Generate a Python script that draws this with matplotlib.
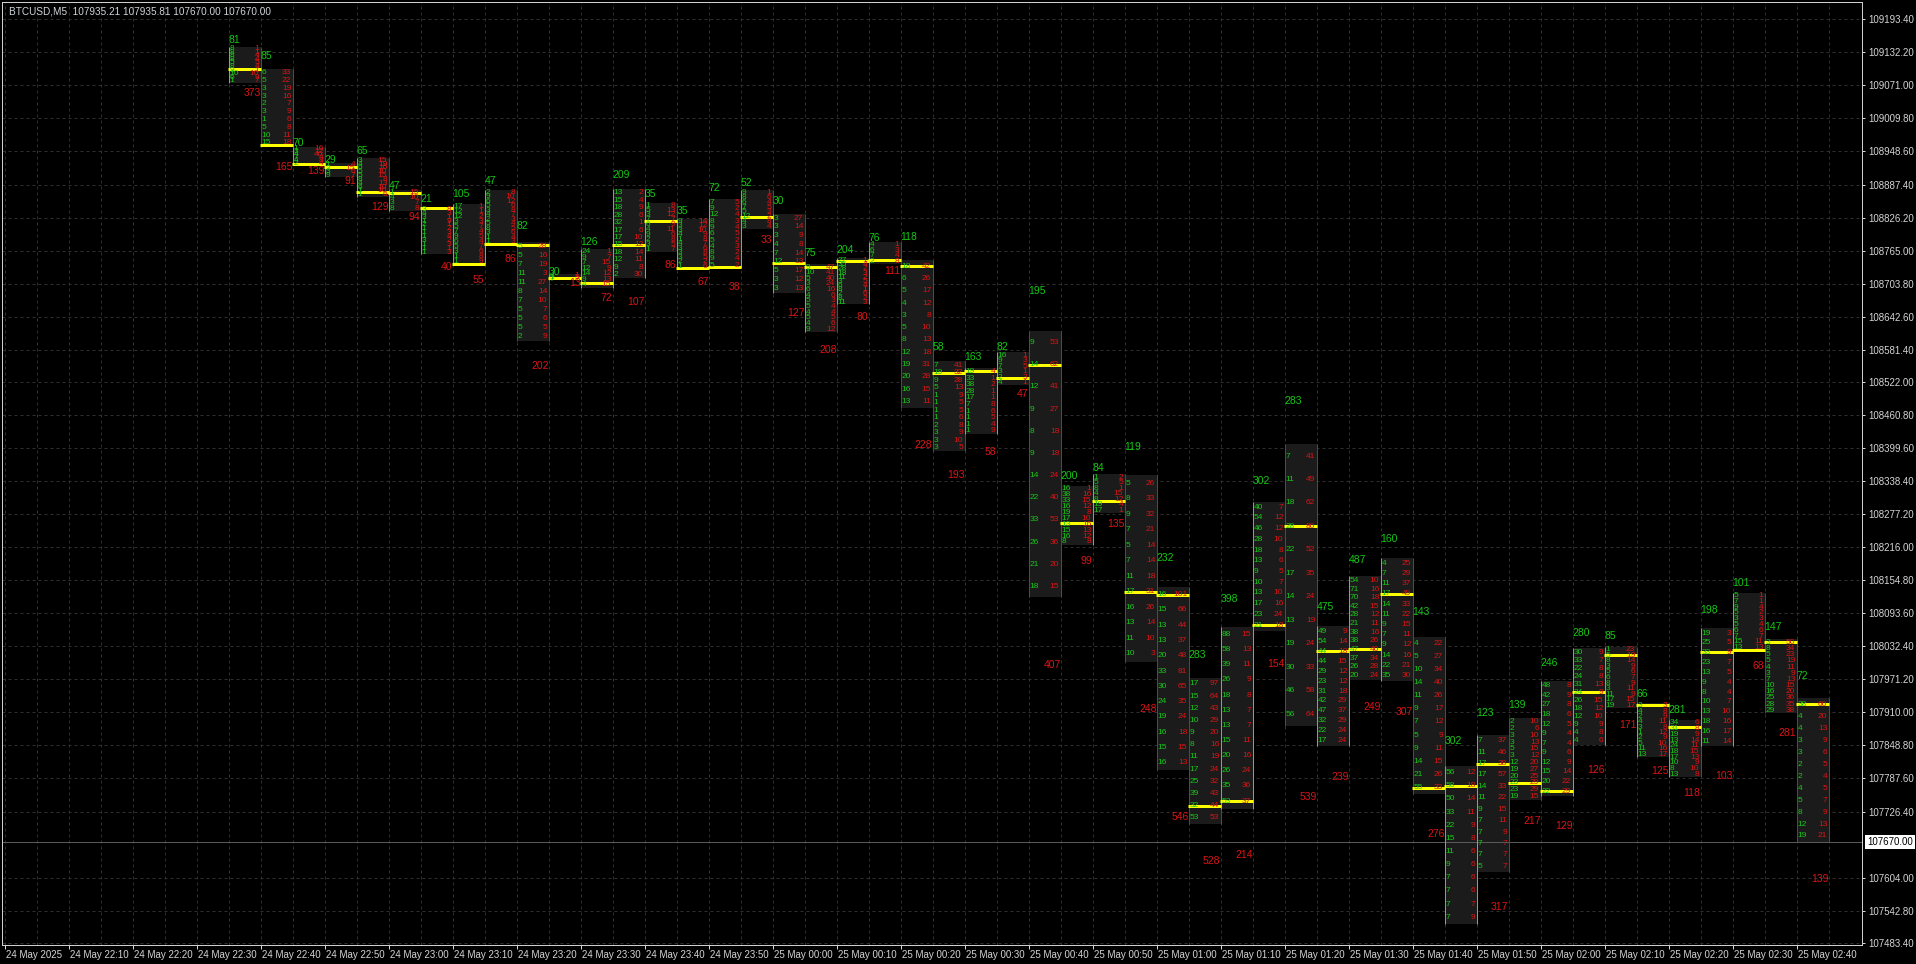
import matplotlib
matplotlib.use("Agg")
import matplotlib.pyplot as plt
from matplotlib.patches import Rectangle
from matplotlib import font_manager

# BTCUSD M5 footprint, 24-25 May 2025
header = "BTCUSD,M5  107935.21 107935.81 107670.00 107670.00"
last_price = 107670.00

bar_times = ["22:35", "22:40", "22:45", "22:50", "22:55", "23:00", "23:05", "23:10", "23:15", "23:20",
             "23:25", "23:30", "23:35", "23:40", "23:45", "23:50", "23:55", "00:00", "00:05", "00:10",
             "00:15", "00:20", "00:25", "00:30", "00:35", "00:40", "00:45", "00:50", "00:55", "01:00",
             "01:05", "01:10", "01:15", "01:20", "01:25", "01:30", "01:35", "01:40", "01:45", "01:50",
             "01:55", "02:00", "02:05", "02:10", "02:15", "02:20", "02:25", "02:30", "02:35", "02:40"]

high = [109142.6, 109101.3, 108957.5, 108926.7, 108936.0, 108877.3, 108845.2, 108851.4, 108877.3, 108781.6,
        108721.7, 108768.6, 108878.6, 108853.8, 108823.0, 108860.1, 108877.3, 108833.4, 108739.9, 108750.6,
        108781.2, 108747.5, 108559.9, 108547.1, 108576.4, 108615.3, 108329.5, 108350.5, 108348.6, 108142.2,
        107973.8, 108068.1, 108300.1, 108406.4, 108069.4, 108162.2, 108195.9, 108049.9, 107810.5, 107868.1,
        107899.0, 107968.1, 108028.6, 108031.6, 107926.8, 107895.9, 108065.7, 108131.6, 108045.3, 107935.8]

low = [109076.0, 108957.5, 108923.6, 108901.9, 108864.9, 108839.0, 108758.2, 108740.3, 108777.3, 108598.2,
       108710.6, 108696.4, 108713.8, 108763.0, 108732.3, 108732.3, 108805.1, 108687.1, 108614.5, 108665.4,
       108739.9, 108474.5, 108393.1, 108424.9, 108515.8, 108122.7, 108220.1, 108278.6, 108003.7, 107802.4,
       107703.5, 107731.8, 108061.4, 107885.1, 107848.1, 107970.5, 107968.5, 107758.7, 107518.5, 107614.4,
       107747.7, 107755.2, 107849.6, 107917.5, 107827.9, 107789.8, 107847.7, 108024.2, 107908.3, 107670.0]

poc = [109100.8, 108960.0, 108925.4, 108919.9, 108873.6, 108871.7, 108843.4, 108740.8, 108778.2, 108774.9,
       108713.8, 108704.5, 108774.9, 108819.3, 108733.4, 108734.1, 108826.7, 108742.5, 108734.9, 108745.6,
       108747.5, 108736.7, 108538.2, 108542.7, 108529.3, 108553.4, 108261.4, 108300.8, 108133.5, 108127.3,
       107737.2, 107746.6, 108071.4, 108255.1, 108024.4, 108027.7, 108128.6, 107770.2, 107774.2, 107813.9,
       107778.7, 107764.4, 107947.2, 108015.7, 107923.1, 107882.4, 108021.2, 108025.8, 108040.3, 107925.0]

buy_total = [81, 85, 70, 29, 65, 47, 21, 105, 47, 82,
             30, 126, 209, 35, 35, 72, 52, 30, 75, 204,
             76, 118, 58, 163, 82, 195, 200, 84, 119, 232,
             283, 398, 302, 283, 475, 487, 160, 143, 302, 123,
             139, 246, 280, 85, 66, 281, 198, 101, 147, 72]

sell_total = [373, 165, 139, 91, 129, 94, 40, 55, 86, 202,
              13, 72, 107, 86, 67, 38, 33, 127, 208, 80,
              111, 228, 193, 58, 47, 407, 99, 135, 248, 546,
              528, 214, 154, 539, 239, 249, 307, 276, None, 317,
              217, 129, 126, 171, 125, 118, 103, 68, 281, 139]

# colour of the left / right edge of each footprint box (g = green, r = red)
edges = ["gr", "rr", "gr", "gr", "gr", "gr", "gr", "gg", "gr", "rr",
         "gr", "gg", "gg", "gr", "gr", "gg", "gr", "gr", "gr", "gg",
         "gr", "rr", "rr", "gg", "gg", "rr", "rg", "gr", "rr", "rr",
         "rr", "gg", "gg", "rr", "gg", "gg", "gr", "rr", "gg", "gr",
         "rr", "gg", "gg", "gr", "gr", "gr", "gg", "gr", "rr", "rr"]

# per price level volumes, top to bottom
buy_lv = [
    [8, 8, 8, 8, 5, 8, 9, 10, 6, 1], [6, 5, 3, 3, 2, 3, 1, 5, 10, 15], [1, 3, 4, 7, 4, 2], [1, 2, 3, 9],
    [3, 4, 6, 5, 5, 8, 4, 6, 1, 1], [1, 4, 3, 8], [3, 4, 3, 1, 2, 1, 1, 1, 3, 1, 1, 1],
    [17, 12, 12, 3, 5, 7, 9, 6, 5, 3, 1, 1], [2, 9, 6, 5, 3, 4, 2, 5, 8, 3, 1, 1],
    [5, 5, 7, 11, 11, 8, 7, 5, 5, 5, 2], [4, 1, 7], [24, 9, 7, 12, 14, 9, 4],
    [13, 15, 18, 28, 32, 17, 17, 15, 18, 12, 9, 2], [1, 5, 3, 7, 6, 4, 9, 2, 3, 1],
    [9, 3, 3, 4, 1, 4, 3, 3, 3, 2, 1], [7, 9, 12, 8, 9, 6, 5, 4, 8, 9, 5], [9, 8, 6, 7, 5, 12, 4, 3],
    [3, 3, 3, 4, 7, 12, 5, 3, 3], [9, 10, 5, 3, 6, 4, 5, 5, 4, 5, 4, 9], [27, 35, 28, 18, 11, 3, 6, 8, 2, 8, 11],
    [4, 6, 7, 2], [18, 6, 5, 4, 3, 5, 8, 12, 19, 20, 16, 13], [7, 19, 9, 5, 1, 1, 1, 1, 2, 3, 3, 3],
    [19, 33, 38, 28, 17, 7, 1, 1, 1, 1], [16, 9, 7, 3, 2, 4], [9, 14, 12, 9, 8, 9, 14, 22, 33, 26, 21, 18],
    [16, 38, 33, 16, 19, 17, 13, 15, 16, 8], [1, 5, 8, 4, 8, 19, 17], [5, 8, 9, 7, 5, 7, 11, 17, 16, 13, 11, 10],
    [16, 15, 13, 13, 20, 33, 30, 24, 19, 16, 15, 16], [17, 15, 12, 10, 9, 8, 11, 17, 25, 39, 32, 53],
    [88, 58, 39, 26, 18, 13, 13, 15, 20, 26, 35, 53], [40, 54, 46, 28, 18, 13, 9, 10, 13, 17, 23, 21],
    [7, 11, 18, 28, 22, 17, 14, 13, 19, 30, 46, 56], [49, 54, 44, 44, 29, 23, 31, 42, 47, 32, 22, 17],
    [54, 71, 70, 42, 28, 21, 38, 38, 47, 37, 26, 20], [4, 7, 11, 17, 14, 11, 9, 7, 9, 14, 22, 35],
    [4, 5, 10, 14, 11, 9, 7, 5, 9, 14, 21, 55], [56, 58, 50, 33, 22, 15, 11, 9, 7, 7, 7, 7],
    [7, 11, 17, 17, 14, 11, 9, 7, 7, 7, 7, 5], [2, 2, 3, 3, 5, 3, 12, 19, 20, 23, 23, 19],
    [48, 42, 27, 18, 12, 9, 7, 9, 12, 15, 20, 22], [30, 33, 22, 24, 31, 24, 26, 18, 12, 9, 4, 4],
    [1, 5, 8, 3, 5, 6, 8, 3, 11, 17, 19], [3, 4, 2, 4, 3, 1, 2, 5, 11, 13], [34, 31, 19, 13, 24, 18, 17, 10, 8, 13],
    [19, 25, 33, 23, 13, 9, 8, 10, 13, 18, 16, 11], [5, 7, 9, 5, 3, 5, 6, 7, 15, 13],
    [3, 8, 5, 5, 4, 3, 7, 10, 16, 25, 28, 29], [38, 4, 4, 3, 3, 2, 2, 4, 5, 8, 12, 19],
]

sell_lv = [
    [1, 1, 4, 4, 5, 4, 1, 10, 9, 7], [33, 22, 19, 16, 7, 9, 6, 8, 11, 18], [16, 12, 40, 4, 8, 4], [4, 15, 6, 7],
    [15, 19, 16, 10, 15, 8, 13, 10, 10, 6], [15, 10, 7, 8], [8, 3, 1, 9, 1, 2, 3, 4, 2, 3, 1, 3],
    [1, 1, 2, 3, 7, 4, 5, 4, 7, 6, 8, 9], [8, 10, 12, 6, 8, 7, 3, 4, 5, 6, 4, 3],
    [28, 16, 19, 3, 27, 14, 10, 7, 6, 5, 9], [1, 5, 7], [1, 7, 15, 9, 12, 13, 15],
    [2, 4, 9, 6, 1, 6, 10, 12, 14, 11, 8, 30], [8, 13, 12, 7, 9, 11, 6, 8, 5, 7],
    [14, 12, 10, 9, 8, 7, 6, 8, 5, 2, 6], [5, 2, 4, 3, 4, 5, 2, 3, 2, 4, 2], [1, 6, 4, 5, 3, 2, 8, 4],
    [27, 14, 9, 8, 14, 13, 17, 12, 13], [47, 41, 40, 24, 16, 6, 3, 4, 4, 5, 6, 12], [1, 4, 2, 3, 2, 5, 4, 1, 6, 2, 3],
    [1, 3, 4, 8], [42, 26, 17, 12, 8, 10, 13, 18, 31, 28, 15, 11], [41, 32, 28, 13, 9, 5, 5, 6, 8, 9, 10, 5],
    [4, 1, 2, 1, 1, 8, 6, 5, 4, 9], [1, 3, 5, 1, 3, 1], [53, 62, 41, 27, 18, 18, 24, 40, 53, 36, 20, 15],
    [1, 16, 15, 12, 8, 10, 16, 13, 12, 8], [2, 5, 1, 15, 12, 4, 1], [26, 33, 32, 21, 14, 14, 18, 31, 26, 14, 10, 3],
    [101, 66, 44, 37, 48, 81, 65, 35, 24, 18, 15, 13], [97, 64, 43, 29, 20, 16, 19, 24, 32, 43, 44, 53],
    [15, 13, 11, 9, 8, 7, 7, 11, 16, 24, 36, 37], [7, 12, 12, 10, 8, 6, 5, 7, 10, 16, 24, 18],
    [41, 49, 62, 80, 52, 35, 24, 19, 24, 33, 58, 64], [9, 14, 18, 15, 12, 12, 18, 29, 37, 29, 24, 24],
    [10, 16, 18, 15, 12, 11, 16, 26, 40, 34, 28, 24], [25, 29, 37, 49, 33, 22, 15, 11, 12, 16, 21, 30],
    [22, 27, 34, 40, 26, 17, 12, 9, 11, 15, 26, 33], [12, 18, 14, 11, 9, 8, 6, 6, 6, 6, 7, 9],
    [37, 46, 38, 57, 33, 22, 15, 11, 9, 7, 7, 7], [10, 6, 10, 13, 15, 12, 20, 27, 25, 29, 29, 15],
    [8, 9, 8, 6, 5, 4, 4, 6, 9, 14, 22, 29], [9, 7, 8, 8, 13, 9, 15, 12, 10, 9, 8, 6],
    [23, 19, 14, 9, 6, 7, 9, 11, 9, 15, 17], [3, 8, 9, 11, 8, 12, 9, 10, 16, 17], [6, 8, 9, 14, 11, 15, 13, 9, 10, 8],
    [3, 5, 9, 7, 5, 4, 4, 7, 10, 16, 17, 14], [1, 1, 4, 2, 3, 4, 6, 7, 11, 13],
    [50, 34, 23, 19, 11, 9, 13, 15, 20, 36, 35, 38], [60, 20, 13, 9, 6, 5, 4, 5, 7, 9, 13, 21],
]

x_ticklabels = ["24 May 2025", "24 May 22:10", "24 May 22:20", "24 May 22:30", "24 May 22:40",
                "24 May 22:50", "24 May 23:00", "24 May 23:10", "24 May 23:20", "24 May 23:30",
                "24 May 23:40", "24 May 23:50", "25 May 00:00", "25 May 00:10", "25 May 00:20",
                "25 May 00:30", "25 May 00:40", "25 May 00:50", "25 May 01:00", "25 May 01:10",
                "25 May 01:20", "25 May 01:30", "25 May 01:40", "25 May 01:50", "25 May 02:00",
                "25 May 02:10", "25 May 02:20", "25 May 02:30", "25 May 02:40"]

y_ticklabels = ["109193.40", "109132.20", "109071.00", "109009.80", "108948.60", "108887.40",
                "108826.20", "108765.00", "108703.80", "108642.60", "108581.40", "108522.00",
                "108460.80", "108399.60", "108338.40", "108277.20", "108216.00", "108154.80",
                "108093.60", "108032.40", "107971.20", "107910.00", "107848.80", "107787.60",
                "107726.40", "107604.00", "107542.80", "107483.40"]

PX = 0.72  # one pixel in points at dpi 100
BOX = "#1b1b1b"
GRID = "#2f2f2f"
AXTXT = "#d4d4d4"
G_LINE, R_LINE = "#00ff00", "#ff0000"
G_TXT, R_TXT = "#16c816", "#dc1414"
YEL = "#ffff00"

names = {f.name for f in font_manager.fontManager.ttflist}
NUM_FONT = "Liberation Sans Narrow" if "Liberation Sans Narrow" in names else "Liberation Sans"
plt.rcParams["font.family"] = ["Liberation Sans", "DejaVu Sans"]


def slot(t):
    h, m = map(int, t.split(":"))
    mins = h * 60 + m
    if h < 22:
        mins += 24 * 60
    return (mins - 22 * 60) / 5


fig = plt.figure(figsize=(19.16, 9.64), dpi=100, facecolor="black")
ax = fig.add_axes([2 / 1916, 19 / 964, 1860 / 1916, 943 / 964])
ax.set_facecolor("black")
x0 = -2.5 / 32
ax.set_xlim(x0, x0 + 1860 / 32)
ax.set_ylim(107479.2, 109225.4)

# grid
yticks = [float(s) for s in y_ticklabels]
ax.set_yticks(yticks)
ax.set_yticklabels(y_ticklabels)
ax.set_xticks(range(0, 2 * len(x_ticklabels), 2))
ax.set_xticklabels([])
ax.set_xticks(range(1, 58, 2), minor=True)
ax.grid(True, which="both", axis="x", color=GRID, lw=PX, ls=(0, (3, 3)))
ax.grid(True, which="major", axis="y", color=GRID, lw=PX, ls=(0, (3, 3)))
ax.set_axisbelow(True)

ax.yaxis.tick_right()
ax.tick_params(axis="y", which="major", length=3 * PX, width=PX, color=AXTXT,
               labelcolor=AXTXT, labelsize=7, pad=2.2)
ax.tick_params(axis="x", which="major", length=4 * PX, width=PX, color=AXTXT)
ax.tick_params(axis="x", which="minor", length=0)
for sp in ax.spines.values():
    sp.set_color("#cfcfcf")
    sp.set_linewidth(PX)

for k, lab in enumerate(x_ticklabels):
    ax.annotate(lab, xy=(2 * k, 0), xycoords=("data", "axes fraction"), xytext=(2, -10),
                textcoords="offset pixels", ha="left", va="center", fontsize=7, color=AXTXT,
                annotation_clip=False)

# last price line and marker
ax.axhline(last_price, color="#5a5a5a", lw=PX, zorder=2.5)
ax.annotate(f"{last_price:.2f}", xy=(1, last_price), xycoords=("axes fraction", "data"),
            xytext=(5, 0), textcoords="offset pixels", ha="left", va="center", fontsize=7,
            color="black", annotation_clip=False,
            bbox=dict(boxstyle="square,pad=0.2", fc="white", ec="none"))

ax.annotate(header, xy=(0, 1), xycoords="axes fraction", xytext=(7, -9),
            textcoords="offset pixels", ha="left", va="center", fontsize=7.2, color="#d0d4d8")

slots = [slot(t) for t in bar_times]

for s, hi, lo in zip(slots, high, low):
    ax.add_patch(Rectangle((s, lo), 1, hi - lo, fc=BOX, ec="none", zorder=2))

for s, hi, lo, e in zip(slots, high, low, edges):
    ax.vlines(s, lo, hi, color=G_LINE if e[0] == "g" else R_LINE, lw=PX, zorder=3)
    ax.vlines(s + 1, lo, hi, color=G_LINE if e[1] == "g" else R_LINE, lw=PX, zorder=3)

for s, p in zip(slots, poc):
    ax.hlines(p, s - 0.03, s + 1.03, color=YEL, lw=3 * PX, zorder=4)

for s, hi, lo, bl, sl in zip(slots, high, low, buy_lv, sell_lv):
    n = len(bl)
    step = (hi - lo) / n
    for k, (b, v) in enumerate(zip(bl, sl)):
        yk = hi - (k + 0.5) * step
        ax.text(s + 0.04, yk, str(b), color=G_TXT, fontsize=6, family=NUM_FONT,
                ha="left", va="center", zorder=5)
        ax.text(s + 0.96, yk, str(v), color=R_TXT, fontsize=6, family=NUM_FONT,
                ha="right", va="center", zorder=5)

for s, hi, lo, bt, st in zip(slots, high, low, buy_total, sell_total):
    rng = hi - lo
    ax.text(s, hi + 0.15 * rng + 1.9, str(bt), color=G_TXT, fontsize=7.5, family=NUM_FONT,
            ha="left", va="center", zorder=5, clip_on=True)
    if st is not None:
        ax.text(s + 1, lo - 0.25 * rng - 1.9, str(st), color=R_TXT, fontsize=7.5,
                family=NUM_FONT, ha="right", va="center", zorder=5, clip_on=True)

fig.savefig("out.png", dpi=100, facecolor="black")
